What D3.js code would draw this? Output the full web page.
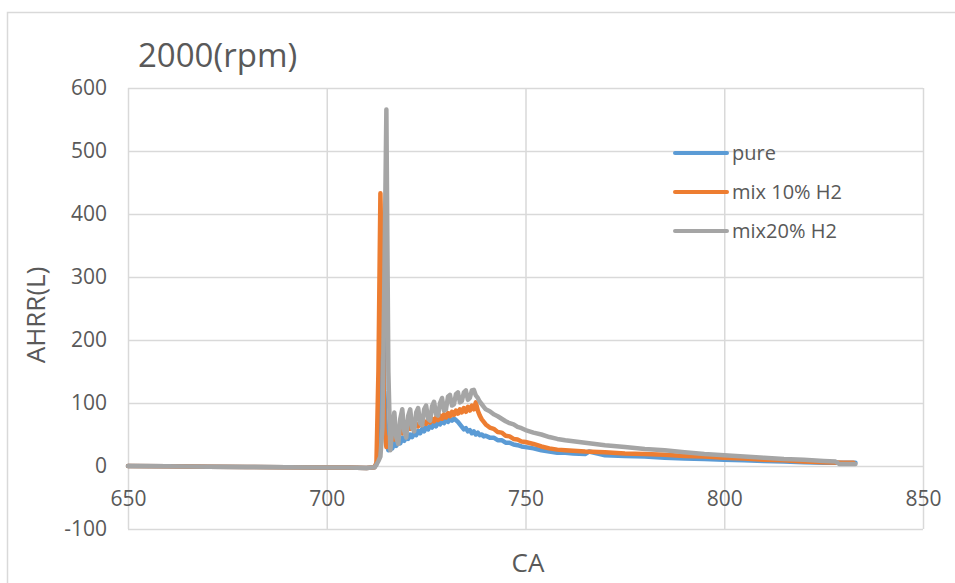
<!DOCTYPE html>
<html>
<head>
<meta charset="utf-8">
<script src="https://cdn.jsdelivr.net/npm/d3@7"></script>
<style>
  html, body { margin: 0; padding: 0; background: #fff; }
  svg { display: block; font-family: "Open Sans", "Liberation Sans", sans-serif; }
</style>
</head>
<body>
<svg id="chart" width="955" height="583"></svg>
<script>
// Crank angle samples (deg) for each series
const caPure = [650,660,670,680,690,700,705,710,712,712.5,713,713.5,714,714.5,715,715.5,716,716.5,717,717.5,718,718.5,719,719.5,720,720.5,721,721.5,722,722.5,723,723.5,724,724.5,725,725.5,726,726.5,727,727.5,728,728.5,729,729.5,730,730.5,731,731.5,732,732.5,733,733.5,734,734.5,735,735.5,736,736.5,737,737.5,738,738.5,739,739.5,740,741,742,743,744,745,746,747,748,749,750,752,754,756,758,760,762,765,766,770,775,780,785,790,795,800,805,810,815,820,825,830,833];
const ahrrPure = [0,-0.5,-1,-1.5,-2,-2.5,-2.5,-3,-2,3,15,120,355,120,40,25,35,28,38,32,42,36,45,40,48,43,50,46,53,49,56,52,59,55,62,58,64,61,67,63,69,66,71,68,73,70,74,72,75,73,70,66,62,58,60,55,57,52,55,50,53,49,50,47,48,45,45,41,41,37,37,34,33,31,30,28,25,23,21,21,20,19,23,17,16,15,13,12,11,10,9,8,7,6,5,5,5];

const caMix10 = [650,660,670,680,690,700,705,710,712,712.5,713,713.5,714,714.5,715,715.5,716,716.5,717,717.5,718,718.5,719,719.5,720,720.5,721,721.5,722,722.5,723,723.5,724,724.5,725,725.5,726,726.5,727,727.5,728,728.5,729,729.5,730,730.5,731,731.5,732,732.5,733,733.5,734,734.5,735,735.5,736,736.5,737,737.5,738,738.5,739,739.5,740,741,742,743,744,745,746,747,748,749,750,752,754,756,758,760,765,770,775,780,785,790,795,800,805,810,815,820,825,830,832.5];
const ahrrMix10 = [0,-0.5,-1,-1.5,-2,-2.5,-2.5,-3,-2,5,150,433,250,60,30,45,38,50,42,55,48,58,52,61,56,63,59,65,61,67,63,69,65,71,67,73,69,75,71,77,73,80,75,82,77,84,79,86,81,88,83,90,85,92,86,94,88,96,90,101,88,80,74,70,66,61,59,54,53,48,47,43,42,39,38,35,31,28,26,25,23,22,20,19,18,16,15,13,12,10,9,7,6,5,5];

const caMix20 = [650,660,670,680,690,700,705,710,712,712.5,713,713.5,714,714.5,715,715.5,716,716.5,717,717.5,718,718.5,719,719.5,720,720.5,721,721.5,722,722.5,723,723.5,724,724.5,725,725.5,726,726.5,727,727.5,728,728.5,729,729.5,730,730.5,731,731.5,732,732.5,733,733.5,734,734.5,735,735.5,736,736.5,737,737.5,738,738.5,739,739.5,740,741,742,743,744,745,746,747,748,749,750,752,754,756,758,760,765,770,775,780,785,790,795,800,805,810,815,820,825,828,829,833];
const ahrrMix20 = [0,-0.5,-1,-1.5,-2,-2.5,-2.5,-3,-2,2,8,15,60,300,566,150,25,60,85,45,35,75,90,55,45,80,90,60,55,85,92,68,65,90,96,75,72,95,102,82,80,100,108,88,90,110,113,96,98,114,117,101,103,117,120,105,108,120,121,112,108,102,98,94,90,87,82,79,75,71,68,66,62,60,57,53,50,46,43,41,37,33,30,27,25,22,19,17,15,13,11,10,8,7,3,3];

const seriesNames = ["pure", "mix 10% H2", "mix20% H2"];
const seriesColors = ["#5B9BD5", "#ED7D31", "#A5A5A5"];
const xTicks = [650, 700, 750, 800, 850];
const yTicks = [-100, 0, 100, 200, 300, 400, 500, 600];

const series = [
  { name: seriesNames[0], color: seriesColors[0], pts: caPure.map((c, i) => [c, ahrrPure[i]]) },
  { name: seriesNames[1], color: seriesColors[1], pts: caMix10.map((c, i) => [c, ahrrMix10[i]]) },
  { name: seriesNames[2], color: seriesColors[2], pts: caMix20.map((c, i) => [c, ahrrMix20[i]]) }
];

const svg = d3.select("#chart");
const plot = { left: 128, right: 923, top: 88, bottom: 529 };
const gridColor = "#d9d9d9";
const textColor = "#595959";
const plainNumber = d => String(d);

const x = d3.scaleLinear().domain([650, 850]).range([plot.left, plot.right]);
const y = d3.scaleLinear().domain([-100, 600]).range([plot.bottom, plot.top]);

// chart frame
svg.append("rect")
  .attr("x", 7.5).attr("y", 12.5)
  .attr("width", 1000).attr("height", 700)
  .attr("fill", "none").attr("stroke", gridColor).attr("stroke-width", 1.5);

// gridlines
const gx = svg.append("g")
  .attr("transform", `translate(0,${plot.bottom})`)
  .call(d3.axisBottom(x).tickValues(xTicks).tickSize(-(plot.bottom - plot.top)).tickFormat(""));
gx.select(".domain").remove();
gx.selectAll("line").attr("stroke", gridColor).attr("stroke-width", 1.5);

const gy = svg.append("g")
  .attr("transform", `translate(${plot.left},0)`)
  .call(d3.axisLeft(y).tickValues(yTicks).tickSize(-(plot.right - plot.left)).tickFormat(""));
gy.select(".domain").remove();
gy.selectAll("line").attr("stroke", gridColor).attr("stroke-width", 1.5);

// tick labels: x labels sit under the zero line
const xl = svg.append("g")
  .attr("transform", `translate(0,${y(0)})`)
  .call(d3.axisBottom(x).tickValues(xTicks).tickSize(0).tickPadding(25).tickFormat(plainNumber));
xl.select(".domain").remove();
xl.selectAll("text").attr("fill", textColor).style("font-size", "21px").style("font-family", "'Open Sans', sans-serif");

const yl = svg.append("g")
  .attr("transform", `translate(${plot.left},0)`)
  .call(d3.axisLeft(y).tickValues(yTicks).tickSize(0).tickPadding(21).tickFormat(plainNumber));
yl.select(".domain").remove();
yl.selectAll("text").attr("fill", textColor).style("font-size", "21px").style("font-family", "'Open Sans', sans-serif");

// series lines
const line = d3.line().x(d => x(d[0])).y(d => y(d[1]));
svg.append("g").selectAll("path")
  .data(series)
  .join("path")
  .attr("d", d => line(d.pts))
  .attr("fill", "none")
  .attr("stroke", d => d.color)
  .attr("stroke-width", 4.5)
  .attr("stroke-linejoin", "round")
  .attr("stroke-linecap", "round");

// legend
const legend = svg.append("g").attr("transform", "translate(675,153)");
const item = legend.selectAll("g").data(series).join("g")
  .attr("transform", (d, i) => `translate(0,${[0, 39, 78][i]})`);
item.append("line")
  .attr("x1", 0).attr("x2", 52).attr("y1", 0).attr("y2", 0)
  .attr("stroke", d => d.color).attr("stroke-width", 4).attr("stroke-linecap", "round");
item.append("text")
  .attr("x", 57).attr("y", 0).attr("dy", "0.35em")
  .attr("fill", textColor).style("font-size", "20px")
  .text(d => d.name);

// titles
svg.append("text")
  .attr("x", 138).attr("y", 67)
  .attr("fill", textColor).style("font-size", "33px")
  .text("2000(rpm)");

svg.append("text")
  .attr("x", 528).attr("y", 572)
  .attr("text-anchor", "middle")
  .attr("fill", textColor).style("font-size", "26px")
  .text("CA");

svg.append("text")
  .attr("transform", "translate(45,315) rotate(-90)")
  .attr("text-anchor", "middle")
  .attr("fill", textColor).style("font-size", "26px")
  .text("AHRR(L)");
</script>
</body>
</html>
